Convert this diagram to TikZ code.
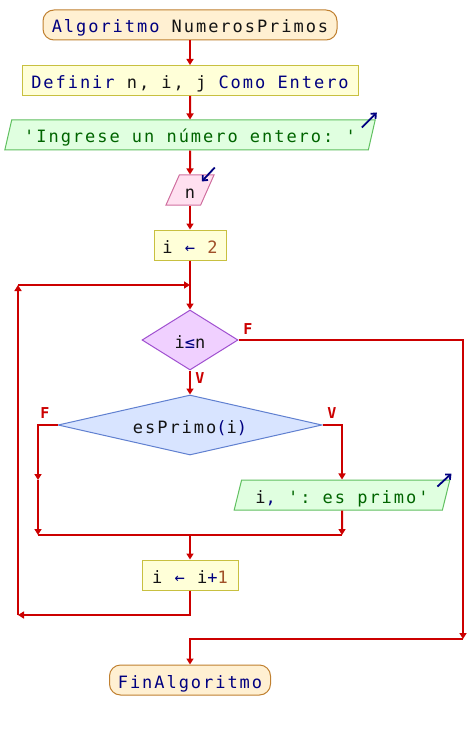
\documentclass[tikz,border=0pt]{standalone}
\usepackage{fontspec}
\setmonofont{DejaVu Sans Mono}[LetterSpace=11.5]
\usetikzlibrary{shapes.geometric, arrows.meta, calc}
\definecolor{flow}{RGB}{204,0,0}
\definecolor{kw}{RGB}{0,0,128}
\definecolor{txt}{RGB}{20,20,20}
\definecolor{str}{RGB}{0,100,0}
\definecolor{num}{RGB}{160,80,40}
\definecolor{termF}{RGB}{255,240,210}
\definecolor{termD}{RGB}{192,128,48}
\definecolor{procF}{RGB}{255,255,216}
\definecolor{procD}{RGB}{200,192,64}
\definecolor{outF}{RGB}{224,255,224}
\definecolor{outD}{RGB}{96,192,96}
\definecolor{inF}{RGB}{255,224,240}
\definecolor{inD}{RGB}{208,112,160}
\definecolor{dAF}{RGB}{240,208,255}
\definecolor{dAD}{RGB}{160,80,208}
\definecolor{dBF}{RGB}{216,228,255}
\definecolor{dBD}{RGB}{96,128,208}
\tikzset{
  base/.style={inner sep=0pt, line width=1pt, font=\ttfamily\fontsize{17}{20}\selectfont, text=txt, text height=16pt, text depth=0pt},
  term/.style={base, rectangle, rounded corners=11pt, fill=termF, draw=termD, minimum height=30pt},
  proc/.style={base, rectangle, fill=procF, draw=procD, minimum height=30pt},
  io/.style={base, trapezium, trapezium left angle=68.2, trapezium right angle=111.8, trapezium stretches=true, minimum height=30pt},
  outbox/.style={io, fill=outF, draw=outD},
  inbox/.style={io, fill=inF, draw=inD},
  dec/.style={base, diamond},
  flowline/.style={draw=flow, line width=2pt},
  arr/.style={flowline, -{Triangle[width=7pt,length=6pt]}},
  lbl/.style={text=flow, font=\ttfamily\bfseries\fontsize{15}{16}\selectfont, inner sep=0pt},
  icon/.style={draw=kw, line width=1.8pt, -{Straight Barb[length=4pt,width=7pt]}}
}
\begin{document}
\begin{tikzpicture}[x=1pt, y=-1pt]
\fill[white] (0,0) rectangle (474,730);
\useasboundingbox (0,0) rectangle (474,730);
\node[term, minimum width=294pt] (start) at (190,25) {\textcolor{kw}{Algoritmo} NumerosPrimos};
\node[proc, minimum width=336pt] (def) at (190,80.5) {\textcolor{kw}{Definir} n, i, j \textcolor{kw}{Como Entero}};
\node[outbox, minimum width=371pt] (msg) at (190,135) {\textcolor{str}{'Ingrese un número entero: '}};
\node[inbox, minimum width=48pt] (rd) at (190,190) {n};
\node[proc, minimum width=72pt] (init) at (190,245) {i \textcolor{kw}{←} \textcolor{num}{2}};
\node[dec, aspect=1.6, fill=dAF, draw=dAD, minimum width=96pt, minimum height=60pt] (cond) at (190,340) {i\textcolor{kw}{≤}n};
\node[dec, aspect=4.4, fill=dBF, draw=dBD, minimum width=264pt, minimum height=60pt] (prime) at (190,425) {esPrimo\textcolor{kw}{(}i\textcolor{kw}{)}};
\node[outbox, minimum width=216pt] (show) at (342,495) {i\textcolor{kw}{,} \textcolor{str}{': es primo'}};
\node[proc, minimum width=96pt] (inc) at (190,575) {i \textcolor{kw}{←} i\textcolor{kw}{+}\textcolor{num}{1}};
\node[term, minimum width=161pt] (stop) at (190,680) {\textcolor{kw}{FinAlgoritmo}};
\coordinate (loopTop) at (18,285);
\coordinate (loopIn) at (190,285);
\coordinate (loopBot) at (18,615);
\coordinate (incBelow) at (190,615);
\coordinate (exitR) at (463,639);
\coordinate (exitM) at (190,639);
\coordinate (fL) at (38,480);
\coordinate (joinL) at (38,535);
\coordinate (joinR) at (342,535);
\coordinate (joinM) at (190,535);
\draw[arr] (start.south) -- (def.north);
\draw[arr] (def.south) -- (msg.north);
\draw[arr] (msg.south) -- (rd.north);
\draw[arr] (rd.south) -- (init.north);
\draw[flowline] (init.south) -- (loopIn);
\draw[arr] (loopIn) -- (cond.north);
\draw[arr] (cond.east) -| (exitR);
\draw[arr] (exitR) -- (exitM) -- (stop.north);
\draw[arr] (cond.south) -- (prime.north);
\draw[arr] (prime.west) -| (fL);
\draw[arr] (fL) -- (joinL);
\draw[arr] (prime.east) -| (show.north);
\draw[arr] (show.south) -- (joinR);
\draw[flowline] (joinL) -- (joinR);
\draw[arr] (joinM) -- (inc.north);
\draw[arr] (inc.south) -- (incBelow) -- (loopBot);
\draw[arr] (loopBot) -- (loopTop);
\draw[arr] (loopTop) -- (loopIn);
\node[lbl] (lF1) at (248,329) {F};
\node[lbl] (lV1) at (200,378) {V};
\node[lbl] (lF2) at (45,413) {F};
\node[lbl] (lV2) at (332,413) {V};
\draw[icon] ($(msg.top right corner)+(-14,8)$) -- ($(msg.top right corner)+(1,-7)$);
\draw[icon] ($(rd.top right corner)+(0,-7)$) -- ($(rd.top right corner)+(-13,7)$);
\draw[icon] ($(show.top right corner)+(-13,7)$) -- ($(show.top right corner)+(1,-6)$);
\end{tikzpicture}
\end{document}
